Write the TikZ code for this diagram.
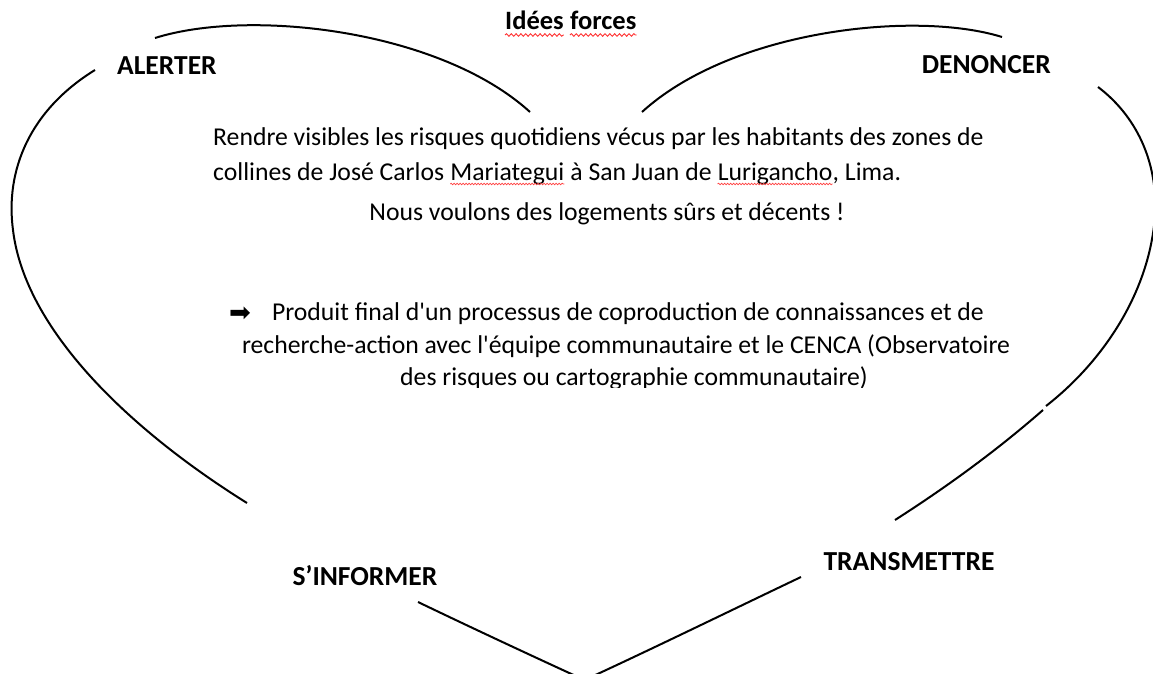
\documentclass[tikz,border=0pt]{standalone}
\usepackage{fontspec}
\setmainfont{Carlito}
\newfontfamily\carl{Carlito}
\newfontfamily\dejavu{DejaVu Sans}
\usetikzlibrary{decorations.pathmorphing}
\begin{document}
\begin{tikzpicture}[x=1pt,y=-1pt,
  heart/.style={line width=2pt, black, line cap=butt},
  body/.style={font=\carl\fontsize{25.7}{30}\selectfont, inner sep=0pt, text=black},
  lbl/.style={font=\fontsize{27.5}{33}\selectfont\bfseries, inner sep=0pt, text=black},
  ttl/.style={font=\fontsize{26.5}{31}\selectfont\bfseries, inner sep=0pt, text=black},
  bigwave/.style={draw=red!80!white, line width=0.9pt, decorate, decoration={snake, amplitude=1.3pt, segment length=4.8pt}},
  smallwave/.style={draw=red!75!white, line width=0.7pt, decorate, decoration={snake, amplitude=0.8pt, segment length=3pt}}
]
\useasboundingbox[fill=white] (0,0) rectangle (1153,674);

% heart outline, in pieces
\draw[heart] (155,38) .. controls (250,8) and (440,30) .. (530,112);
\draw[heart] (642,112) .. controls (732,30) and (915,10) .. (1002,37);
\draw[heart] (95,70) .. controls (30,110) and (5,170) .. (13,230)
                     .. controls (25,330) and (130,430) .. (247,503);
\draw[heart] (1098,87) .. controls (1135,115) and (1158,160) .. (1155,215)
                       .. controls (1150,290) and (1105,360) .. (1046,406);
\draw[heart] (1043,410) .. controls (995,452) and (945,488) .. (895,520);
\draw[heart] (418,602) .. controls (470,627) and (530,655) .. (584.5,680);
\draw[heart] (801,577) .. controls (740,606) and (650,650) .. (584.5,680);

% title
\node[ttl, anchor=base west] (t1) at (505,30) {Idées};
\node[ttl, anchor=base west] (t2) at ([xshift=6pt]t1.base east) {forces};
\draw[bigwave] ([yshift=-5pt]t1.base west) -- ([yshift=-5pt]t1.base east);
\draw[bigwave] ([yshift=-5pt]t2.base west) -- ([yshift=-5pt]t2.base east);

% corner labels
\node[lbl, anchor=base west] (alerter) at (117,75) {ALERTER};
\node[lbl, anchor=base east] (denoncer) at (1051,74) {DENONCER};
\node[lbl, anchor=base] (sinformer) at (365,585) {S’INFORMER};
\node[lbl, anchor=base] (transmettre) at (909,570) {TRANSMETTRE};

% main text
\node[body, anchor=base west] (r1) at (213,146) {Rendre visibles les risques quotidiens vécus par les habitants des zones de};
\node[body, anchor=base west] (c1) at (213,180) {collines de José Carlos};
\node[body, anchor=base west] (mar) at ([xshift=5.8pt]c1.base east) {Mariategui};
\node[body, anchor=base west] (c2) at ([xshift=5.8pt]mar.base east) {à San Juan de};
\node[body, anchor=base west] (lur) at ([xshift=5.8pt]c2.base east) {Lurigancho};
\node[body, anchor=base west] (c3) at (lur.base east) {, Lima.};
\draw[smallwave] ([yshift=-4pt]mar.base west) -- ([yshift=-4pt]mar.base east);
\draw[smallwave] ([yshift=-4pt]lur.base west) -- ([yshift=-4pt]lur.base east);
\node[body, anchor=base] (nous) at (607,220) {Nous voulons des logements sûrs et décents !};

\node[anchor=base west, inner sep=0pt, font=\dejavu\fontsize{26}{30}\selectfont] (arr) at (229,321) {➡};
\node[body, anchor=base] (p1) at (628,320) {Produit final d'un processus de coproduction de connaissances et de};
\node[body, anchor=base] (p2) at (626,353) {recherche-action avec l'équipe communautaire et le CENCA (Observatoire};
\begin{scope}
  \clip (300,350) rectangle (950,387);
  \node[body, anchor=base] (p3) at (634,385) {des risques ou cartographie communautaire)};
\end{scope}
\end{tikzpicture}
\end{document}
